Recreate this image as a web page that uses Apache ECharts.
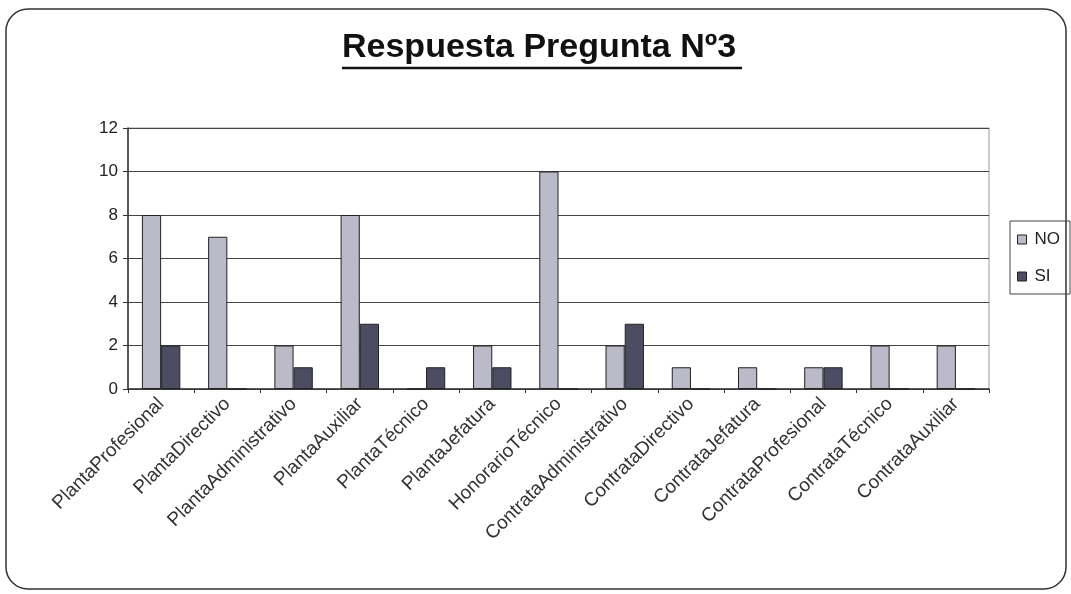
<!DOCTYPE html>
<html><head><meta charset="utf-8">
<script src="https://cdn.jsdelivr.net/npm/echarts@6/dist/echarts.min.js"></script>
<style>html,body{margin:0;padding:0;background:#fff}#c{width:1071px;height:594px}</style>
</head><body><div id="c"></div>
<script>
const categories = ["PlantaProfesional","PlantaDirectivo","PlantaAdministrativo","PlantaAuxiliar","PlantaTécnico","PlantaJefatura","HonorarioTécnico","ContrataAdministrativo","ContrataDirectivo","ContrataJefatura","ContrataProfesional","ContrataTécnico","ContrataAuxiliar"];
const noValues = [8,7,2,8,0,2,10,2,1,1,1,2,2];
const siValues = [2,0,1,3,1,1,0,3,0,0,1,0,0];
const yTicks = {min:0,max:12,interval:2};

const chart = echarts.init(document.getElementById('c'));
chart.setOption({
  animation:false,
  backgroundColor:'#fff',
  title:{text:'Respuesta Pregunta Nº3',left:342,top:31,padding:0,
    textStyle:{fontFamily:'Liberation Sans, Arial',fontWeight:'bold',fontSize:34,color:'#111'}},
  graphic:[
    {type:'rect',shape:{x:6,y:9,width:1060,height:580,r:22},style:{fill:'none',stroke:'#333',lineWidth:1.5}},
    {type:'line',shape:{x1:342,y1:68,x2:742,y2:68},style:{stroke:'#111',lineWidth:2.5}}
  ],
  legend:{orient:'vertical',left:1010,top:221,icon:'rect',itemWidth:9,itemHeight:9,itemGap:20,
    padding:[10,10,9,7],borderColor:'#444',borderWidth:1,
    itemStyle:{borderColor:'#222',borderWidth:1},
    textStyle:{fontFamily:'Liberation Sans, Arial',fontSize:17,color:'#222',padding:[0,0,0,3]},
    data:['NO','SI']},
  grid:{left:128,right:82,top:128,bottom:205,show:true,borderColor:'#999',borderWidth:1},
  xAxis:{type:'category',data:categories,
    axisLine:{lineStyle:{color:'#333',width:1.5}},
    axisTick:{show:true,alignWithLabel:false,length:4,lineStyle:{color:'#333'}},
    axisLabel:{rotate:45,interval:0,fontFamily:'Liberation Sans, Arial',fontSize:19,color:'#333',margin:12}},
  yAxis:{type:'value',min:yTicks.min,max:yTicks.max,interval:yTicks.interval,
    axisLine:{show:true,lineStyle:{color:'#333',width:1.5}},
    axisTick:{show:true,length:5,lineStyle:{color:'#333'}},
    splitLine:{lineStyle:{color:'#444',width:1.2}},
    axisLabel:{fontFamily:'Liberation Sans, Arial',fontSize:17,color:'#222',margin:10}},
  series:[
    {name:'NO',type:'bar',data:noValues,barGap:'0%',barCategoryGap:'42%',
     itemStyle:{color:'#babac8',borderColor:'#222',borderWidth:1}},
    {name:'SI',type:'bar',data:siValues,
     itemStyle:{color:'#4c4c62',borderColor:'#222',borderWidth:1}}
  ]
});
</script></body></html>
